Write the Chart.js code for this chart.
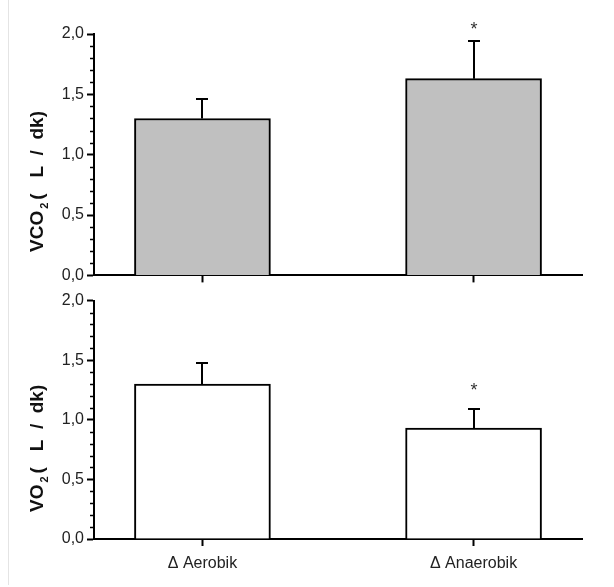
<!DOCTYPE html>
<html>
<head>
<meta charset="utf-8">
<script src="https://cdn.jsdelivr.net/npm/chart.js@4.4.0/dist/chart.umd.min.js"></script>
<style>
  html, body { margin: 0; padding: 0; background: #fff; }
  #wrap { position: relative; width: 614px; height: 587px; overflow: hidden; }
  #frame { position: absolute; left: 8px; top: 0; width: 1px; height: 585px; background: #e4e4e4; }
  canvas { position: absolute; left: 0; }
  #vcoChart { top: 0; }
  #voChart { top: 288px; }
</style>
</head>
<body>
<div id="wrap">
  <div id="frame"></div>
  <canvas id="vcoChart" width="614" height="288"></canvas>
  <canvas id="voChart" width="614" height="299"></canvas>
</div>
<script>
// data
var groups = ['Δ Aerobik', 'Δ Anaerobik'];
var groupPos = [1, 2];
var vco2 = [1.30, 1.63];
var vco2Err = [0.165, 0.315];
var vco2Sig = ['', '*'];
var vo2 = [1.30, 0.93];
var vo2Err = [0.175, 0.16];
var vo2Sig = ['', '*'];
var yMin = 0, yMax = 2.0, yStep = 0.5, yMinorStep = 0.1;

var FONT = '"Liberation Sans", Arial, "Noto Sans CJK SC", sans-serif';

// error bars + significance stars
var errorBars = {
  id: 'errorBars',
  afterDatasetsDraw: function(chart, args, opts) {
    var ctx = chart.ctx, x = chart.scales.x, y = chart.scales.y;
    ctx.save();
    ctx.strokeStyle = '#000';
    ctx.lineWidth = 2;
    opts.values.forEach(function(v, i) {
      var px = Math.round(x.getPixelForValue(groupPos[i]));
      var y0 = y.getPixelForValue(v);
      var y1 = Math.round(y.getPixelForValue(v + opts.errors[i]));
      ctx.beginPath();
      ctx.moveTo(px, y0);
      ctx.lineTo(px, y1);
      ctx.moveTo(px - 6, y1);
      ctx.lineTo(px + 6, y1);
      ctx.stroke();
      if (opts.marks[i]) {
        ctx.fillStyle = '#333';
        ctx.font = '18px ' + FONT;
        ctx.textAlign = 'center';
        ctx.textBaseline = 'alphabetic';
        ctx.fillText(opts.marks[i], px, y1 - opts.markGap);
      }
    });
    ctx.restore();
  }
};

// minor y ticks and the y title with a subscript
var axisExtras = {
  id: 'axisExtras',
  afterDraw: function(chart, args, opts) {
    var ctx = chart.ctx, y = chart.scales.y, left = chart.chartArea.left;
    ctx.save();
    ctx.strokeStyle = '#000';
    ctx.lineWidth = 1.5;
    var n = Math.round((yMax - yMin) / yMinorStep);
    var every = Math.round(yStep / yMinorStep);
    for (var k = 1; k < n; k++) {
      if (k % every === 0) continue;
      var py = Math.round(y.getPixelForValue(yMin + k * yMinorStep)) + 0.5;
      ctx.beginPath();
      ctx.moveTo(left - 4, py);
      ctx.lineTo(left, py);
      ctx.stroke();
    }

    ctx.translate(opts.titleX, opts.titleY);
    ctx.rotate(-Math.PI / 2);
    ctx.fillStyle = '#111';
    ctx.textAlign = 'left';
    ctx.textBaseline = 'alphabetic';
    ctx.font = 'bold 19px ' + FONT;
    ctx.fillText(opts.title[0], 0, 0);
    var w = ctx.measureText(opts.title[0]).width;
    ctx.font = 'bold 11px ' + FONT;
    ctx.fillText(opts.title[1], w + 2, 5);
    var w2 = ctx.measureText(opts.title[1]).width;
    ctx.font = 'bold 19px ' + FONT;
    ctx.fillText(opts.title[2], w + w2 + 5, 0);
    ctx.restore();
  }
};

function makeChart(canvasId, values, errors, marks, fill, showLabels, pad, xHeight, title, titleY, markGap) {
  var canvas = document.getElementById(canvasId);
  return new Chart(canvas, {
    type: 'bar',
    data: {
      datasets: [{
        data: groupPos.map(function(p, i) { return { x: p, y: values[i] }; }),
        backgroundColor: fill,
        borderColor: '#000',
        borderWidth: 2,
        barThickness: 136
      }]
    },
    options: {
      responsive: false,
      animation: false,
      layout: { padding: { left: 0, right: 32, top: pad, bottom: 0 } },
      plugins: {
        legend: { display: false },
        tooltip: { enabled: false },
        errorBars: { values: values, errors: errors, marks: marks, markGap: markGap },
        axisExtras: { title: title, titleX: 43, titleY: titleY }
      },
      scales: {
        x: {
          type: 'linear',
          min: 0.6,
          max: 2.4,
          offset: false,
          afterBuildTicks: function(scale) {
            scale.ticks = groupPos.map(function(p) { return { value: p }; });
          },
          afterFit: function(scale) { scale.height = xHeight; },
          ticks: {
            autoSkip: false,
            maxRotation: 0,
            padding: 8,
            color: '#222',
            font: { family: FONT, size: 16 },
            callback: function(v) {
              if (!showLabels) return '';
              var i = groupPos.indexOf(v);
              return i >= 0 ? groups[i] : '';
            }
          },
          grid: {
            offset: false,
            drawOnChartArea: false,
            drawTicks: true,
            tickLength: 7,
            tickWidth: 2,
            tickColor: '#000',
            color: '#000'
          },
          border: { color: '#000', width: 2 }
        },
        y: {
          min: yMin,
          max: yMax,
          afterFit: function(scale) { scale.width = 94; },
          ticks: {
            stepSize: yStep,
            padding: 3,
            color: '#222',
            font: { family: FONT, size: 16 },
            callback: function(v) { return v.toFixed(1).replace('.', ','); }
          },
          grid: {
            drawOnChartArea: false,
            drawTicks: true,
            tickLength: 7,
            tickWidth: 2,
            tickColor: '#000',
            color: '#000'
          },
          border: { color: '#000', width: 2 }
        }
      }
    },
    plugins: [errorBars, axisExtras]
  });
}

var vcoChart = makeChart('vcoChart', vco2, vco2Err, vco2Sig, '#c0c0c0', false, 34, 12,
  ['VCO', '2', '(   L  /  dk)'], 252, 6);
var voChart = makeChart('voChart', vo2, vo2Err, vo2Sig, '#ffffff', true, 12, 48,
  ['VO', '2', '(   L  /  dk)'], 224, 13);
</script>
</body>
</html>
